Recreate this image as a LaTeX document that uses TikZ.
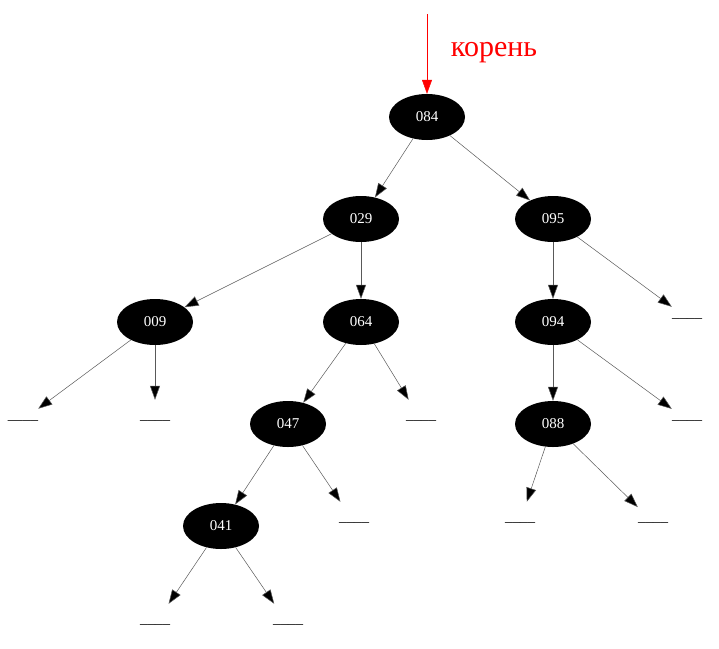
\documentclass[tikz,border=0pt]{standalone}
\usepackage{fontspec}
\setmainfont{Liberation Serif}
\usetikzlibrary{shapes.geometric,arrows.meta}

\tikzset{
  key/.style={ellipse, fill=black, text=white, minimum width=76pt, minimum height=46pt, inner sep=0pt, font=\fontsize{15}{15}\selectfont},
  leaf/.style={rectangle, minimum width=30pt, minimum height=40pt, inner sep=0pt, font=\fontsize{15}{15}\selectfont},
  link/.style={draw=gray!70!black, line width=0.5pt, -{Triangle[length=14pt,width=10pt,fill=black]}}
}

\begin{document}
\begin{tikzpicture}[x=1pt,y=-1pt]
\useasboundingbox (0,0) rectangle (719,648);

\node[key] (k084) at (427,117) {084};
\node[key] (k029) at (361,219) {029};
\node[key] (k095) at (553,219) {095};
\node[key] (k009) at (155,322) {009};
\node[key] (k064) at (361,322) {064};
\node[key] (k094) at (553,322) {094};
\node[key] (k047) at (288,424) {047};
\node[key] (k088) at (553,424) {088};
\node[key] (k041) at (221,526) {041};

\node[leaf] (n095r) at (687,318) {\_\_\_\_};
\node[leaf] (n009l) at (23,420) {\_\_\_\_};
\node[leaf] (n009r) at (155,420) {\_\_\_\_};
\node[leaf] (n064r) at (421,420) {\_\_\_\_};
\node[leaf] (n094r) at (687,420) {\_\_\_\_};
\node[leaf] (n047r) at (354,522) {\_\_\_\_};
\node[leaf] (n088l) at (520,522) {\_\_\_\_};
\node[leaf] (n088r) at (653,522) {\_\_\_\_};
\node[leaf] (n041l) at (155,624) {\_\_\_\_};
\node[leaf] (n041r) at (288,624) {\_\_\_\_};

% root pointer
\coordinate (top) at (427,14);
\draw[red, line width=0.5pt, -{Triangle[length=14pt,width=10pt,fill=red]}] (top) -- (k084);
\node[red, font=\fontsize{30}{30}\selectfont] (lbl) at (494,53) {корень};

\draw[link] (k084) -- (k029);
\draw[link] (k084) -- (k095);
\draw[link] (k029) -- (k009);
\draw[link] (k029) -- (k064);
\draw[link] (k095) -- (k094);
\draw[link] (k095) -- (n095r);
\draw[link] (k009) -- (n009l);
\draw[link] (k009) -- (n009r);
\draw[link] (k064) -- (k047);
\draw[link] (k064) -- (n064r);
\draw[link] (k094) -- (k088);
\draw[link] (k094) -- (n094r);
\draw[link] (k047) -- (k041);
\draw[link] (k047) -- (n047r);
\draw[link] (k088) -- (n088l);
\draw[link] (k088) -- (n088r);
\draw[link] (k041) -- (n041l);
\draw[link] (k041) -- (n041r);
\end{tikzpicture}
\end{document}
